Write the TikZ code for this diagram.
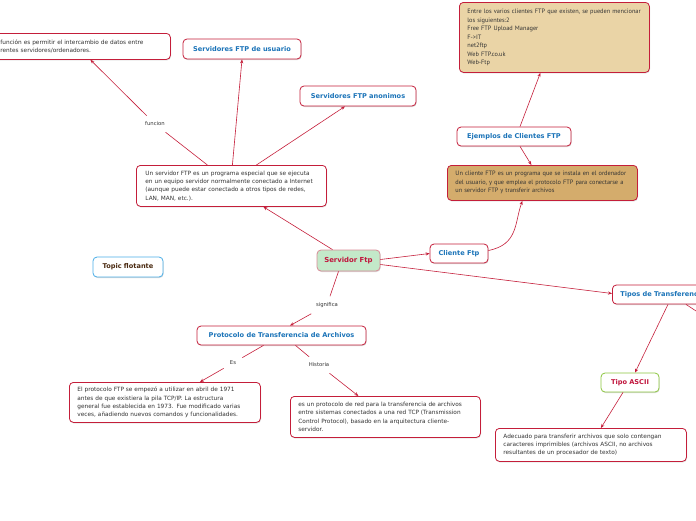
\documentclass[tikz,border=0pt]{standalone}
\usepackage{fontspec}
\setmainfont{DejaVu Sans}
\newfontfamily\tanfont{PT Sans}
\usetikzlibrary{shadows,arrows.meta}
\definecolor{crim}{HTML}{C41E3A}
\definecolor{blueT}{HTML}{1A73B8}
\definecolor{redT}{HTML}{C0143C}
\definecolor{txtg}{HTML}{333333}
\definecolor{tanL}{HTML}{EAD4A6}
\definecolor{tanD}{HTML}{D4AC6C}
\definecolor{greenF}{HTML}{C3E9C9}
\definecolor{pinkB}{HTML}{D98B96}
\definecolor{greenB}{HTML}{8CC63F}
\definecolor{blueB}{HTML}{4AAEE8}
\definecolor{brownT}{HTML}{4A2A10}
\tikzset{
  box/.style={draw=crim, line width=0.8pt, rounded corners=4pt, fill=white,
    drop shadow={shadow xshift=0.6pt, shadow yshift=-1pt, opacity=0.25, fill=black!60}},
  bodytxt/.style={font=\fontsize{5.8}{8.2}\selectfont, text=txtg, align=left},
  tantxt/.style={font=\tanfont\fontsize{6.3}{8.5}\selectfont, text=txtg, align=left},
  title/.style={font=\bfseries\fontsize{6.6}{7.5}\selectfont, text=blueT},
  lbl/.style={font=\fontsize{5.3}{6}\selectfont, text=txtg, inner sep=6pt},
  conn/.style={draw=crim, line width=0.6pt},
  arr/.style={conn, -{Stealth[length=4pt,width=3.2pt]}}
}
\begin{document}
\begin{tikzpicture}[x=1pt,y=-1pt]
\useasboundingbox (0,0) rectangle (696,520);

% boxes
\node[box, bodytxt, anchor=north west, text width=162pt, inner xsep=8pt, minimum height=26pt] (fn) at (-8,33)
  {función es permitir el intercambio de datos entre\\rentes servidores/ordenadores.};
\node[box, title, minimum width=118pt, minimum height=20pt] (usr) at (242,49) {Servidores FTP de usuario};
\node[box, title, minimum width=116pt, minimum height=20pt] (anon) at (358,96) {Servidores FTP anonimos};
\node[box, bodytxt, anchor=north west, text width=172pt, inner xsep=9pt, minimum height=41pt] (main) at (136,165)
  {Un servidor FTP es un programa especial que se ejecuta\\en un equipo servidor normalmente conectado a Internet\\(aunque puede estar conectado a otros tipos de redes,\\LAN, MAN, etc.).};
\node[box, draw=pinkB, fill=greenF, font=\bfseries\fontsize{6.9}{8}\selectfont, text=redT,
  minimum width=63pt, minimum height=21pt] (srv) at (348.5,260.5) {Servidor Ftp};
\node[box, title, minimum width=58pt, minimum height=19pt] (cli) at (459,253.5) {Cliente Ftp};
\node[box, fill=tanD, tantxt, anchor=north west, text width=174pt, inner xsep=8pt, minimum height=35pt] (clid) at (447,165)
  {Un cliente FTP es un programa que se instala en el ordenador\\del usuario, y que emplea el protocolo FTP para conectarse a\\un servidor FTP y transferir archivos};
\node[box, title, minimum width=114pt, minimum height=19pt] (ej) at (514,136.5) {Ejemplos de Clientes FTP};
\node[box, fill=tanL, tantxt, anchor=north west, text width=174pt, inner xsep=8pt, minimum height=70pt] (top) at (459,2)
  {Entre los varios clientes FTP que existen, se pueden mencionar\\los siguientes:2\\Free FTP Upload Manager\\F->IT\\net2ftp\\Web FTP.co.uk\\Web-Ftp};
\node[box, draw=blueB, font=\bfseries\fontsize{6.6}{7.5}\selectfont, text=brownT,
  minimum width=70pt, minimum height=20pt] (flot) at (128,267) {Topic flotante};
\node[box, title, anchor=west, inner xsep=8pt, minimum height=19pt] (tipos) at (612,294.5) {Tipos de Transferencia};
\node[box, draw=greenB, font=\bfseries\fontsize{6.6}{7.5}\selectfont, text=redT,
  minimum width=58pt, minimum height=19pt] (ascii) at (630,382.5) {Tipo ASCII};
\node[box, bodytxt, anchor=north west, text width=175pt, inner xsep=8pt, minimum height=33pt] (asciid) at (495,428)
  {Adecuado para transferir archivos que solo contengan\\caracteres imprimibles (archivos ASCII, no archivos\\resultantes de un procesador de texto)};
\node[box, title, minimum width=169pt, minimum height=19pt] (proto) at (281.5,335.5) {Protocolo de Transferencia de Archivos};
\node[box, bodytxt, anchor=north west, text width=175pt, inner xsep=8pt, minimum height=40pt] (hist1) at (69,382)
  {El protocolo FTP se empezó a utilizar en abril de 1971\\antes de que existiera la pila TCP/IP. La estructura\\general fue establecida en 1973. Fue modificado varias\\veces, añadiendo nuevos comandos y funcionalidades.};
\node[box, bodytxt, anchor=north west, text width=174pt, inner xsep=8pt, minimum height=41pt] (hist2) at (290,396)
  {es un protocolo de red para la transferencia de archivos\\entre sistemas conectados a una red TCP (Transmission\\Control Protocol), basado en la arquitectura cliente-\\servidor.};

% labels
\node[lbl] (funcion) at (155,124) {funcion};
\node[lbl] (sig) at (327,305) {significa};
\node[lbl] (es) at (233,363) {Es};
\node[lbl] (histl) at (319,365) {Historia};
\coordinate (offr) at (722,328);

% connectors
\draw[conn] ([xshift=-24pt]main.north) -- (funcion);
\draw[arr] (funcion) -- ([xshift=9pt]fn.south);
\draw[arr] ([xshift=1pt]main.north) -- (usr.south);
\draw[arr] ([xshift=25pt]main.north) -- ([xshift=-13pt]anon.south);
\draw[arr] ([xshift=-16pt]srv.north) -- ([xshift=32pt]main.south);
\draw[arr] ([yshift=1pt]srv.east) -- (cli.west);
\draw[arr] ([yshift=-4pt]srv.east) -- ([yshift=1pt]tipos.west);
\draw[arr] ([yshift=3pt]cli.east) .. controls +(30,-6) and +(-8,22) .. ([xshift=-20pt]clid.south);
\draw[arr] ([xshift=6pt]ej.south) -- ([xshift=-11pt]clid.north);
\draw[arr] ([xshift=6pt]ej.north) -- ([xshift=-14pt]top.south);
\draw[arr] ([xshift=56pt]tipos.west |- tipos.south) -- ([xshift=5pt]ascii.north);
\draw[conn] ([xshift=74pt]tipos.west |- tipos.south) -- (offr);
\draw[arr] ([xshift=-7pt]ascii.south) -- ([xshift=10pt]asciid.north);
\draw[conn] ([xshift=-10pt]srv.south) -- (sig);
\draw[arr] (sig) -- ([xshift=8.5pt]proto.north);
\draw[conn] ([xshift=-18pt]proto.south) -- (es);
\draw[arr] (es) -- ([xshift=35pt]hist1.north);
\draw[conn] ([xshift=14pt]proto.south) -- (histl);
\draw[arr] (histl) -- ([xshift=-27pt]hist2.north);
\end{tikzpicture}
\end{document}
